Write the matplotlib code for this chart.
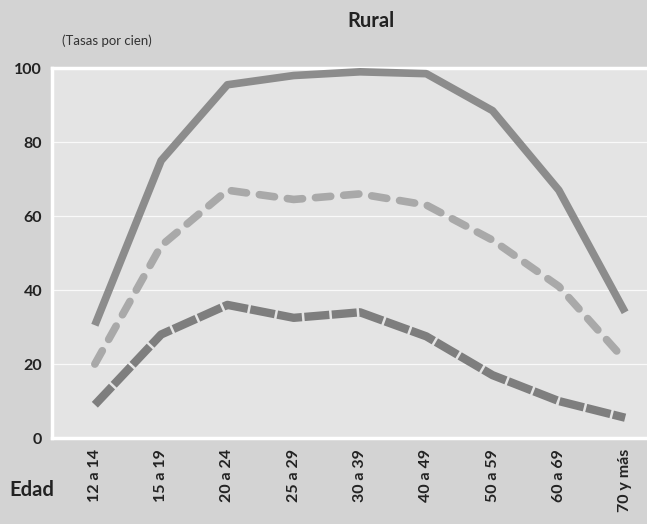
import numpy as np
import matplotlib.pyplot as plt

# ==========================================
# DATA
# ==========================================
edades = ["12 a 14", "15 a 19", "20 a 24", "25 a 29", "30 a 39",
          "40 a 49", "50 a 59", "60 a 69", "70 y más"]
serie_solida = [30.5, 75, 95.5, 98, 99, 98.5, 88.5, 67, 34]
serie_clara = [20, 52, 67, 64.5, 66, 63, 53.5, 41, 21]
serie_oscura = [9, 28, 36, 32.5, 34, 27.5, 17, 10, 5.5]
y_ticks = [0, 20, 40, 60, 80, 100]

plt.rcParams['font.family'] = ['Lato', 'DejaVu Sans']

fig = plt.figure(figsize=(6.47, 5.24), dpi=100)
fig.patch.set_facecolor('#d3d3d3')
ax = fig.add_axes([0.080, 0.164, 0.92, 0.706])
ax.set_facecolor('#e4e4e4')

x = np.arange(len(edades))
ax.plot(x, serie_solida, color='#8c8c8c', linewidth=5.5, solid_capstyle='butt', zorder=3)
ax.plot(x, serie_clara, color='#a9a9a9', linewidth=5.5, linestyle=(0, (2.0, 1.7)),
        dash_capstyle='round', zorder=3)
ax.plot(x, serie_oscura, color='#7e7e7e', linewidth=6, linestyle=(0, (3.0, 0.3)),
        dash_capstyle='butt', zorder=3)

ax.set_xlim(-0.65, 8.33)
ax.set_ylim(0, 100)

# white grid + frame
for v in y_ticks[1:-1]:
    ax.axhline(v, color='white', linewidth=0.9, alpha=0.8, zorder=1)
for s in ['top', 'left', 'bottom']:
    ax.spines[s].set_color('white')
    ax.spines[s].set_linewidth(2.5)
ax.spines['right'].set_visible(False)

ax.set_yticks(y_ticks)
ax.set_yticklabels([str(v) for v in y_ticks], fontsize=11.5, fontweight='bold', color='#222222')
ax.set_xticks(x)
ax.set_xticklabels(edades, rotation=90, fontsize=11.5, fontweight='bold', color='#222222')
ax.tick_params(axis='both', length=0)
ax.tick_params(axis='y', pad=7)
ax.tick_params(axis='x', pad=8)

fig.text(0.573, 0.960, "Rural", ha='center', va='center', fontsize=14.5,
         fontweight='bold', color='#222222')
fig.text(0.096, 0.922, "(Tasas por cien)", ha='left', va='center', fontsize=9.5,
         color='#333333')
fig.text(0.015, 0.065, "Edad", ha='left', va='center', fontsize=14.5,
         fontweight='bold', color='#222222')

plt.savefig('out.png', dpi=100, facecolor=fig.get_facecolor())
